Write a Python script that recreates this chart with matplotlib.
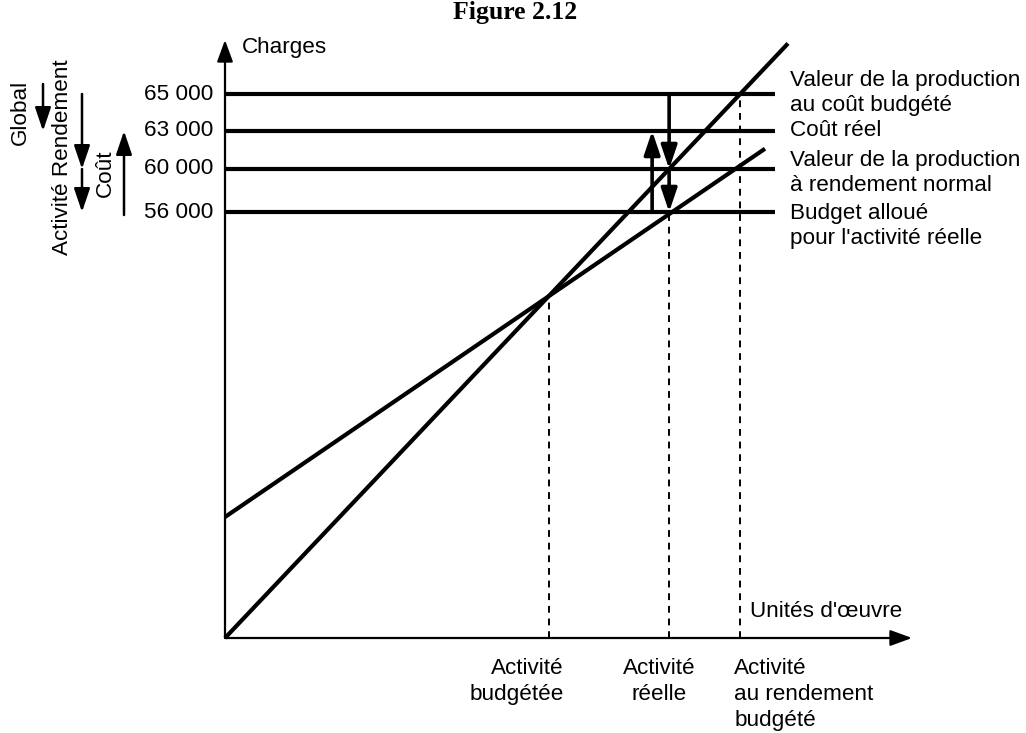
import matplotlib
matplotlib.use('Agg')
import matplotlib.pyplot as plt
import numpy as np

plt.rcParams['font.family'] = ['Liberation Sans', 'DejaVu Sans']

# schematic chart units (not to scale, as in the original figure)
level_labels = ['65 000', '63 000', '60 000', '56 000']
level_heights = [544, 507, 469, 426]
level_names = ['Valeur de la production\nau coût budgété',
               'Coût réel',
               'Valeur de la production\nà rendement normal',
               'Budget alloué\npour l\'activité réelle']

std_slope = 1.056        # valeur de la production au coût standard
budget_fixed = 121       # budget flexible : partie fixe
budget_slope = 0.682     # budget flexible : partie variable
std_end = 563
budget_end = 540

activity_labels = ['Activité\nbudgétée', 'Activité\nréelle',
                   'Activité\nau rendement\nbudgété']

# key activity points from the two lines
x_budg = budget_fixed / (std_slope - budget_slope)
x_reel = level_heights[2] / std_slope
x_rend = level_heights[0] / std_slope

FS = 16.2

fig = plt.figure(figsize=(10.26, 7.33), dpi=100)
ax = fig.add_axes([0, 0, 1, 1])
ax.set_xlim(-225, 801)
ax.set_ylim(-95, 638)
ax.axis('off')

# axes with arrows
ax.annotate('', xy=(687, 0), xytext=(0, 0),
            arrowprops=dict(arrowstyle='-|>,head_length=0.6,head_width=0.22',
                            lw=1.6, color='k', mutation_scale=22,
                            shrinkA=0, shrinkB=0))
ax.annotate('', xy=(0, 598), xytext=(0, 0),
            arrowprops=dict(arrowstyle='-|>,head_length=0.6,head_width=0.22',
                            lw=1.6, color='k', mutation_scale=22,
                            shrinkA=0, shrinkB=0))
ax.text(17, 590, 'Charges', fontsize=FS, va='center', ha='left')
ax.text(525, 16, "Unités d'œuvre", fontsize=FS, va='bottom', ha='left')

# horizontal levels
for h, lab in zip(level_heights, level_labels):
    ax.plot([0, 550], [h, h], color='k', lw=3, solid_capstyle='butt')
    ax.text(-12, h, lab, fontsize=FS, ha='right', va='center')
for h, name, dy in zip(level_heights, level_names, [1, 0, -4, -14]):
    ax.text(565, h + dy, name, fontsize=FS, ha='left', va='center',
            linespacing=1.3)

# the two lines
xs = np.array([0, std_end])
ax.plot(xs, std_slope * xs, color='k', lw=3, solid_capstyle='butt')
xb = np.array([0, budget_end])
ax.plot(xb, budget_fixed + budget_slope * xb, color='k', lw=3,
        solid_capstyle='butt')

# dashed activity markers
dash = dict(color='k', lw=1.4, linestyle=(0, (3.5, 3)))
ax.plot([x_budg, x_budg], [0, std_slope * x_budg], **dash)
ax.plot([x_reel, x_reel], [0, level_heights[3]], **dash)
ax.plot([x_rend, x_rend], [0, level_heights[0]], **dash)

ax.text(x_budg + 15, -20, activity_labels[0], fontsize=FS, ha='right',
        va='top', multialignment='right', linespacing=1.3)
ax.text(x_reel - 10, -20, activity_labels[1], fontsize=FS, ha='center',
        va='top', linespacing=1.3)
ax.text(x_rend - 6, -20, activity_labels[2], fontsize=FS, ha='left',
        va='top', linespacing=1.3)


def arrow(x, y0, y1, lw=2.6, ms=22):
    ax.annotate('', xy=(x, y1), xytext=(x, y0),
                arrowprops=dict(arrowstyle='-|>,head_length=0.65,head_width=0.22',
                                lw=lw, color='k', mutation_scale=ms,
                                shrinkA=0, shrinkB=0))


# variance arrows in the chart
arrow(x_reel, level_heights[0], level_heights[2])
arrow(x_reel, level_heights[2], level_heights[3])
arrow(x_reel - 17, level_heights[3], level_heights[1])

# variance arrows on the left
arrow(-182, level_heights[0] + 10, level_heights[1], lw=1.8, ms=22)
arrow(-143, level_heights[0], level_heights[2], lw=1.8, ms=22)
arrow(-143, level_heights[2], level_heights[3], lw=1.8, ms=22)
arrow(-101, level_heights[3] - 3, level_heights[1], lw=1.8, ms=22)

ax.text(-205, 526, 'Global', fontsize=FS, rotation=90, ha='center',
        va='center')
ax.text(-163, 481, 'Activité Rendement', fontsize=FS, rotation=90,
        ha='center', va='center')
ax.text(-120, 465, 'Coût', fontsize=FS, rotation=90, ha='center',
        va='center')

ax.text(290, 625, 'Figure 2.12', fontsize=18.5, fontweight='bold',
        family='Liberation Serif', ha='center', va='center')

fig.savefig('out.png', dpi=100)
